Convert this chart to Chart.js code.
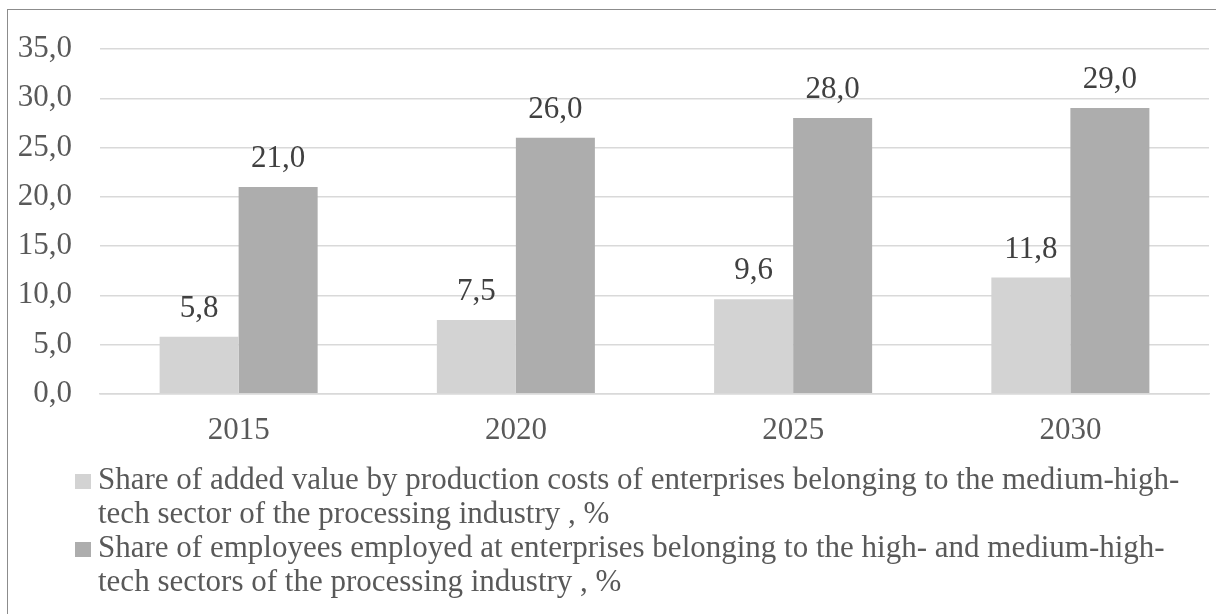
<!DOCTYPE html>
<html>
<head>
<meta charset="utf-8">
<script src="https://cdn.jsdelivr.net/npm/chart.js@4.4.1/dist/chart.umd.min.js"></script>
<style>
  html, body { margin: 0; padding: 0; background: #fff; overflow: hidden; }
  body { width: 1216px; height: 614px; position: relative; font-family: 'Liberation Serif', 'Times New Roman', serif; }
  .frame { position: absolute; left: 7px; top: 9px; width: 1240px; height: 640px; border: 1px solid #8c8c8c; }
  .chart-box { position: absolute; left: 0; top: 0; width: 1216px; height: 469px; }
  #legend { position: absolute; left: 98px; top: 462px; font-size: 31px; line-height: 34px; color: #595959; }
  #legend .item { position: relative; white-space: pre; }
  #legend .swatch { position: absolute; left: -23px; top: 12px; width: 16px; height: 15px; }
</style>
</head>
<body>
<div class="frame"></div>
<div class="chart-box"><canvas id="barChart"></canvas></div>
<div id="legend"></div>
<script>
// ----- data -----
const years = ['2015', '2020', '2025', '2030'];
const addedValueShare = [5.8, 7.5, 9.6, 11.8];
const employeesShare = [21.0, 26.0, 28.0, 29.0];
const seriesNames = [
    'Share of added value by production costs of enterprises belonging to the medium-high-\ntech sector of the processing industry , %',
    'Share of employees employed at enterprises belonging to the high- and medium-high-\ntech sectors of the processing industry , %'
];
const seriesColors = ['#d3d3d3', '#adadad'];
const yTicks = { min: 0, max: 35, step: 5 };

const fontFamily = "'Liberation Serif', 'Times New Roman', serif";
const fmt = v => Number(v).toFixed(1).replace('.', ',');

// value labels above bars
const valueLabels = {
    id: 'valueLabels',
    afterDatasetsDraw(chart) {
        const ctx = chart.ctx;
        ctx.save();
        ctx.font = '31px ' + fontFamily;
        ctx.fillStyle = '#404040';
        ctx.textAlign = 'center';
        ctx.textBaseline = 'alphabetic';
        chart.data.datasets.forEach((ds, i) => {
            chart.getDatasetMeta(i).data.forEach((bar, j) => {
                ctx.fillText(fmt(ds.data[j]), bar.x, bar.y - 20);
            });
        });
        ctx.restore();
    }
};

const ctx = document.getElementById('barChart').getContext('2d');
const barChart = new Chart(ctx, {
    type: 'bar',
    data: {
        labels: years,
        datasets: [
            { label: seriesNames[0], data: addedValueShare, backgroundColor: seriesColors[0], borderWidth: 0 },
            { label: seriesNames[1], data: employeesShare, backgroundColor: seriesColors[1], borderWidth: 0 }
        ]
    },
    options: {
        responsive: true,
        maintainAspectRatio: false,
        animation: false,
        datasets: { bar: { categoryPercentage: 0.57, barPercentage: 1.0 } },
        layout: { padding: { left: 18, right: 7, top: 49, bottom: 2 } },
        plugins: { legend: { display: false }, tooltip: { enabled: false } },
        scales: {
            x: {
                grid: { display: false, drawTicks: false },
                border: { color: '#d9d9d9', width: 1.5 },
                ticks: { color: '#595959', padding: 18, font: { family: fontFamily, size: 31 } }
            },
            y: {
                min: yTicks.min,
                max: yTicks.max,
                afterFit(scale) { scale.width = 82; },
                grid: { color: '#d9d9d9', lineWidth: 1.5, drawTicks: false },
                border: { display: false },
                ticks: {
                    stepSize: yTicks.step,
                    padding: 28,
                    color: '#595959',
                    font: { family: fontFamily, size: 31 },
                    callback: v => fmt(v)
                }
            }
        }
    },
    plugins: [valueLabels]
});

// HTML legend (labels need to wrap onto two lines)
const legendEl = document.getElementById('legend');
barChart.data.datasets.forEach(ds => {
    const item = document.createElement('div');
    item.className = 'item';
    const sw = document.createElement('span');
    sw.className = 'swatch';
    sw.style.background = ds.backgroundColor;
    item.appendChild(sw);
    item.appendChild(document.createTextNode(ds.label));
    legendEl.appendChild(item);
});
</script>
</body>
</html>
